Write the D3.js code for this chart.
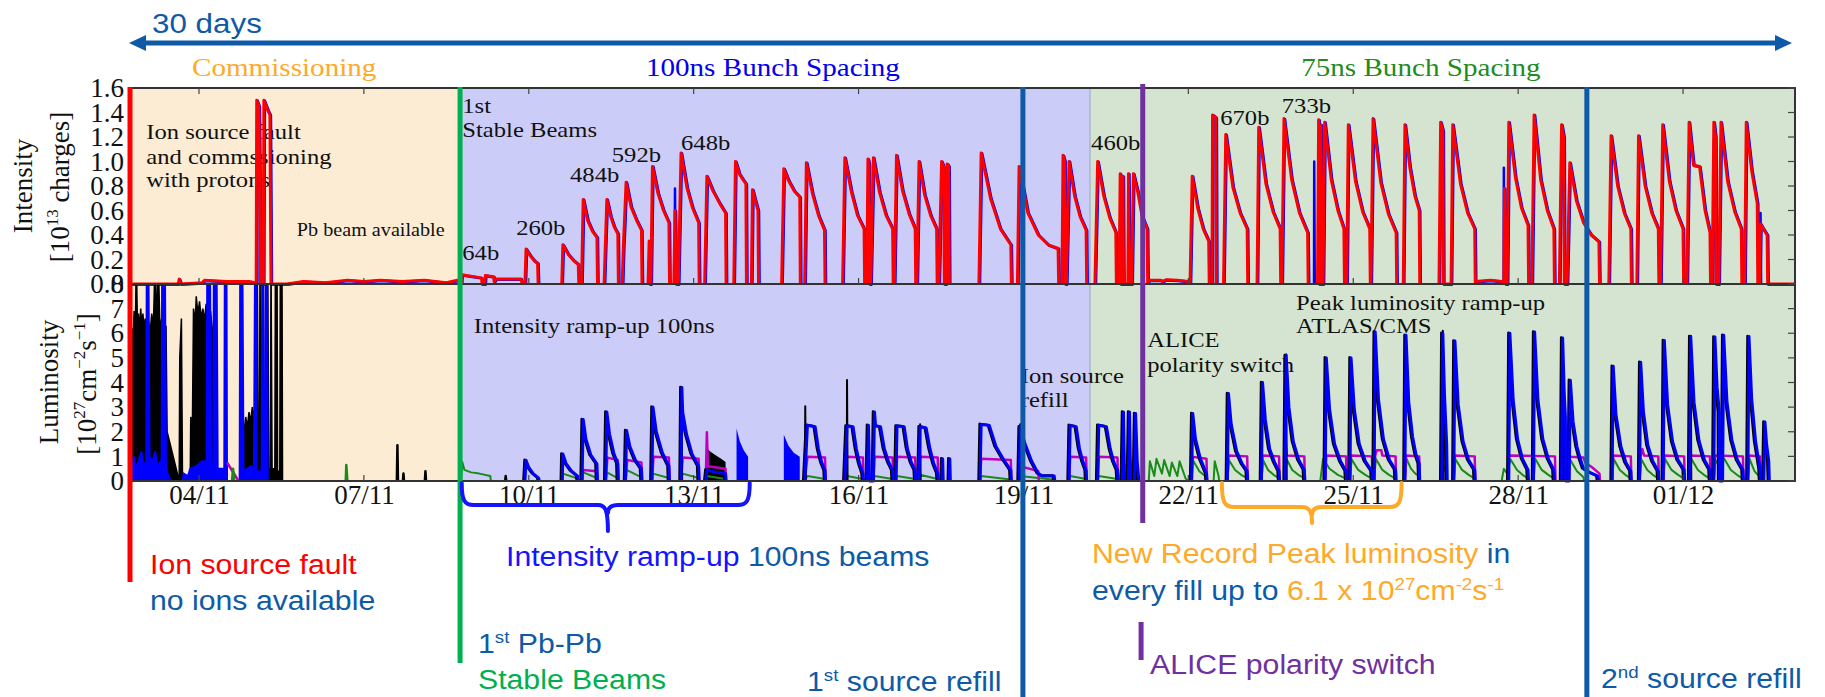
<!DOCTYPE html>
<html>
<head>
<meta charset="utf-8">
<script src="https://cdn.jsdelivr.net/npm/d3@7"></script>
<style>body{margin:0;background:#fff}</style>
</head>
<body>
<div id="chart"></div>
<script>
var W = 1825, H = 697;
var serif = "'Liberation Serif','Times New Roman',serif",
    sans = "'Liberation Sans',Arial,sans-serif";
var sx = 1.12; // the source figure is stretched a little sideways
var navy = "#0e5aa7";

// time = days counted from 1 Nov (31 = 1 Dec)
var dayTicks = [4, 7, 10, 13, 16, 19, 22, 25, 28, 31];
var dayLabels = ["04/11","07/11","10/11","13/11","16/11","19/11","22/11","25/11","28/11","01/12"];
var intTicks = [0, 0.2, 0.4, 0.6, 0.8, 1.0, 1.2, 1.4, 1.6];
var lumTicks = [0, 1, 2, 3, 4, 5, 6, 7, 8];

var phaseNames = ["Commissioning", "100ns Bunch Spacing", "75ns Bunch Spacing"];
var phaseFrom = [2.763, 8.75, 20.21];
var phaseTo = [8.75, 20.21, 33.037];
var phaseMid = [5.55, 14.44, 26.23];
var phaseFill = ["#fdecd4", "#ccccf8", "#d5e4d0"];
var phaseInk = ["#ffa928", "#0000ee", "#1e8c1e"];

// beam intensity (red beam, blue beam follows it closely)
var intRed = [
  [[2.77,0],[3.62,0],[3.64,0.04],[3.67,0],[4.05,0.01],[4.1,0.03],[4.5,0.02],[4.9,0.02],[5.04,0.01],[5.05,1.5],[5.09,1.45],[5.12,0],[5.17,0],[5.18,1.5],[5.25,1.42],[5.29,1.38],[5.31,0],[5.6,0],[5.9,0.02],[6.3,0.01],[6.7,0.03],[7.0,0.02],[7.3,0.03],[7.7,0.02],[8.1,0.03],[8.5,0.01],[8.7,0.03],[8.75,0]],
  [[8.77,0],[8.78,0.075],[9.14,0.05],[9.15,0],[9.2,0],[9.21,0.07],[9.36,0.06],[9.37,0.02],[9.4,0.04],[9.86,0.04],[9.88,0]],
  [[9.93,0],[9.95,0.285],[10.03,0.23],[10.10,0.19],[10.16,0.17],[10.17,0]],
  [[10.60,0],[10.62,0.32],[10.72,0.24],[10.82,0.19],[10.90,0.16],[10.91,0]],
  [[10.96,0],[10.99,0.69],[11.07,0.52],[11.16,0.43],[11.24,0.38],[11.25,0]],
  [[11.37,0],[11.42,0.69],[11.49,0.55],[11.56,0.46],[11.62,0.41],[11.63,0]],
  [[11.70,0],[11.72,0.3],[11.74,0.5],[11.77,0.83],[11.86,0.63],[11.96,0.52],[12.05,0.44],[12.06,0]],
  [[12.17,0],[12.19,0.35],[12.20,0],[12.22,0],[12.25,0.96],[12.35,0.74],[12.45,0.6],[12.55,0.5],[12.56,0]],
  [[12.64,0],[12.66,0.6],[12.68,0],[12.72,0],[12.77,1.07],[12.88,0.78],[12.98,0.62],[13.09,0.5],[13.10,0]],
  [[13.20,0],[13.24,0.88],[13.35,0.76],[13.47,0.66],[13.58,0.58],[13.59,0]],
  [[13.73,0],[13.76,1.0],[13.83,0.9],[13.90,0.85],[13.95,0.82],[13.96,0]],
  [[14.05,0],[14.07,0.77],[14.11,0.7],[14.17,0.6],[14.18,0]],
  [[14.60,0],[14.64,0.94],[14.73,0.84],[14.83,0.76],[14.93,0.71],[14.94,0]],
  [[15.02,0],[15.05,0.99],[15.16,0.74],[15.27,0.56],[15.38,0.44],[15.39,0]],
  [[15.71,0],[15.75,1.03],[15.87,0.75],[15.98,0.56],[16.10,0.45],[16.11,0]],
  [[16.15,0],[16.17,1.02],[16.19,0.98],[16.20,0],[16.22,0],[16.27,1.03],[16.38,0.75],[16.50,0.56],[16.62,0.45],[16.63,0]],
  [[16.65,0],[16.69,1.05],[16.80,0.76],[16.92,0.57],[17.03,0.45],[17.04,0]],
  [[17.06,0],[17.10,1.0],[17.20,0.73],[17.31,0.56],[17.42,0.45],[17.43,0]],
  [[17.46,0],[17.51,1.0],[17.55,0.95],[17.56,0],[17.59,0],[17.61,0.98],[17.64,0.96],[17.65,0]],
  [[18.19,0],[18.23,1.07],[18.40,0.7],[18.58,0.45],[18.77,0.32],[18.78,0]],
  [[18.89,0],[18.92,0.96],[19.08,0.58],[19.27,0.4],[19.45,0.32],[19.63,0.29],[19.64,0]],
  [[19.70,0],[19.72,1.05],[19.75,1.0],[19.76,0],[19.78,0],[19.83,1.0],[19.93,0.72],[20.03,0.55],[20.14,0.44],[20.15,0]],
  [[20.30,0],[20.35,1.0],[20.46,0.72],[20.57,0.54],[20.68,0.42],[20.69,0]],
  [[20.74,0],[20.76,0.9],[20.77,0],[20.80,0],[20.81,0.88],[20.82,0],[20.90,0],[20.91,0.9],[20.93,0],[20.97,0],[21.0,0.9],[21.08,0.75],[21.16,0.55],[21.25,0.45],[21.26,0]],
  [[21.26,0],[21.28,0.03],[21.5,0.03],[21.52,0.02],[21.6,0.035],[21.8,0.03],[22.0,0.02],[22.01,0]],
  [[22.03,0],[22.07,0.88],[22.17,0.62],[22.27,0.45],[22.37,0.35],[22.38,0]],
  [[22.43,0],[22.44,1.38],[22.50,1.36],[22.51,0]],
  [[22.64,0],[22.68,1.22],[22.81,0.79],[22.94,0.58],[23.07,0.45],[23.08,0]],
  [[23.25,0],[23.28,1.28],[23.41,0.82],[23.54,0.59],[23.67,0.45],[23.68,0]],
  [[23.70,0],[23.74,1.35],[23.88,0.85],[24.02,0.58],[24.17,0.42],[24.18,0]],
  [[24.35,0],[24.37,1.34],[24.38,0],[24.40,0],[24.41,1.3],[24.42,0],[24.45,0],[24.48,1.32],[24.60,0.85],[24.72,0.6],[24.83,0.45],[24.84,0]],
  [[24.88,0],[24.91,1.30],[25.04,0.84],[25.17,0.59],[25.30,0.45],[25.31,0]],
  [[25.32,0],[25.36,1.35],[25.50,0.83],[25.64,0.57],[25.78,0.42],[25.79,0]],
  [[25.91,0],[25.94,1.30],[26.03,0.95],[26.12,0.72],[26.20,0.6],[26.21,0]],
  [[26.56,0],[26.59,1.32],[26.63,1.25],[26.64,0],[26.78,0],[26.81,1.30],[26.95,0.82],[27.08,0.58],[27.21,0.45],[27.22,0]],
  [[27.22,0.02],[27.5,0.03],[27.7,0.02],[27.73,0]],
  [[27.74,0],[27.75,0.78],[27.77,0],[27.80,0],[27.83,1.32],[27.95,0.87],[28.06,0.62],[28.18,0.48],[28.19,0]],
  [[28.25,0],[28.29,1.38],[28.41,0.85],[28.53,0.6],[28.65,0.45],[28.66,0]],
  [[28.75,0],[28.79,1.30],[28.83,1.2],[28.84,0],[28.89,0],[28.94,0.99],[29.06,0.68],[29.19,0.5],[29.33,0.4],[29.47,0.345],[29.48,0]],
  [[29.65,0],[29.69,1.21],[29.81,0.8],[29.93,0.58],[30.05,0.45],[30.06,0]],
  [[30.16,0],[30.19,1.21],[30.31,0.8],[30.43,0.58],[30.55,0.45],[30.56,0]],
  [[30.59,0],[30.63,1.30],[30.75,0.84],[30.87,0.6],[31.0,0.45],[31.01,0]],
  [[31.07,0],[31.11,1.32],[31.19,0.97],[31.30,0.96],[31.40,0.6],[31.49,0.42],[31.50,0]],
  [[31.53,0],[31.56,1.32],[31.59,1.2],[31.60,0],[31.65,0],[31.69,1.32],[31.81,0.84],[31.94,0.59],[32.06,0.45],[32.07,0]],
  [[32.12,0],[32.15,1.32],[32.25,0.92],[32.35,0.66],[32.36,0]],
  [[32.39,0],[32.41,0.49],[32.46,0.45],[32.53,0.4],[32.54,0],[33.03,0]]
];
var intBlueSpikes = [[5.05,0.54],[12.66,0.78],[24.29,1.0],[27.74,0.95],[32.41,0.58]];

// luminosity: commissioning period (values above 8 leave the panel)
var lumBlackComm = [[2.77,0],[2.78,6.2],[2.80,5.8],[2.82,6.9],[2.84,6.0],[2.86,9],[2.88,6.3],[2.90,6.8],[2.92,6.0],[2.94,7.0],[2.96,6.2],[2.98,6.8],[3.00,6.1],[3.02,6.6],[3.05,6.0],[3.08,6.5],[3.11,6.0],[3.14,6.8],[3.17,6.2],[3.20,9],[3.23,6.4],[3.26,9],[3.29,6.1],[3.32,6.6],[3.36,6.0],[3.40,6.3],[3.42,2.0],[3.64,0],[3.65,5.0],[3.68,6.6],[3.70,0],[3.84,0],[3.85,2.6],[3.88,2.2],[3.90,7.0],[3.93,6.4],[3.95,7.5],[3.98,6.8],[4.01,7.3],[4.04,6.6],[4.07,7.0],[4.10,6.5],[4.13,7.2],[4.17,6.4],[4.21,6.9],[4.25,6.0],[4.29,6.5],[4.31,2.0],[4.33,0],[4.78,0],[4.79,2.3],[4.82,2.0],[4.85,2.6],[4.88,2.2],[4.91,2.8],[4.94,2.4],[4.97,3.0],[5.0,2.6],[5.03,3.2],[5.05,2.8],[5.06,9],[5.08,0.6],[5.10,0.6],[5.11,9],[5.13,0.6],[5.16,0.6],[5.17,9],[5.19,0.5],[5.24,0.5],[5.25,9],[5.27,0.5],[5.30,0.5],[5.31,9],[5.33,0.5],[5.38,0.5],[5.39,9],[5.42,9],[5.43,0.4],[5.47,0.4],[5.48,9],[5.51,9],[5.52,0],[5.6,0]];
var lumBlueComm = [[2.77,0],[2.78,0.6],[2.82,1.0],[2.86,0.5],[2.90,0.8],[2.95,1.2],[3.00,0.6],[3.04,0.8],[3.05,9],[3.08,9],[3.10,1.0],[3.15,0.7],[3.20,1.2],[3.25,0.6],[3.30,0.8],[3.32,0.8],[3.33,9],[3.38,9],[3.40,0.6],[3.44,0.2],[3.50,0],[3.70,0],[3.72,0.3],[3.80,0.2],[3.84,0.5],[3.95,0.6],[4.05,0.8],[4.14,0.8],[4.15,9],[4.20,9],[4.22,0.6],[4.26,0.6],[4.27,9],[4.32,9],[4.34,0.5],[4.46,0.5],[4.47,9],[4.50,9],[4.51,0],[4.74,0],[4.75,9],[4.79,9],[4.81,0.4],[4.95,0.6],[5.00,0.5],[5.02,9],[5.04,9],[5.05,0.4],[5.14,0.4],[5.15,9],[5.17,9],[5.18,0.3],[5.21,0.3],[5.22,9],[5.24,9],[5.25,0],[5.60,0]];
var lumSmall = [
  {c:"#bf00bf", p:[[4.51,0.75],[4.72,0]]},
  {c:"#1a8a1a", p:[[4.60,0],[4.62,0.5],[4.64,0]]},
  {c:"#1a8a1a", p:[[6.67,0],[6.68,0.65],[6.70,0]]},
  {c:"#000", p:[[7.60,0],[7.61,1.45],[7.62,0]]},
  {c:"#000", p:[[7.71,0],[7.72,0.3],[7.73,0]]},
  {c:"#000", p:[[8.11,0],[8.12,0.4],[8.13,0]]},
  {c:"#000", p:[[9.57,0],[9.58,0.2],[9.59,0]]}
];

// luminosity fills, ATLAS/CMS (blue on top of black)
var lumBlue = [
  [[9.93,0],[9.95,0.84],[10.0,0.55],[10.08,0.3],[10.18,0.12],[10.19,0]],
  [[10.61,0],[10.62,1.1],[10.68,0.7],[10.78,0.4],[10.89,0.2],[10.9,0]],
  [[10.97,0],[10.99,2.5],[11.04,1.7],[11.13,1.05],[11.24,0.7],[11.25,0]],
  [[11.40,0],[11.42,2.8],[11.47,1.9],[11.55,1.1],[11.62,0.7],[11.63,0]],
  [[11.76,0],[11.78,2.05],[11.84,1.4],[11.94,0.85],[12.05,0.5],[12.06,0]],
  [[12.24,0],[12.26,3.0],[12.32,2.0],[12.43,1.15],[12.55,0.6],[12.56,0]],
  [[12.77,0],[12.785,3.8],[12.80,2.8],[12.87,1.9],[12.97,1.1],[13.09,0.6],[13.10,0]],
  [[13.22,0],[13.24,0.45],[13.4,0.35],[13.58,0.3],[13.59,0]],
  [[15.02,0],[15.07,2.26],[15.21,2.2],[15.27,1.3],[15.33,0.75],[15.39,0.43],[15.40,0]],
  [[15.75,0],[15.79,2.23],[15.90,2.2],[15.96,1.3],[16.02,0.7],[16.08,0.3],[16.09,0]],
  [[16.16,0],[16.18,2.26],[16.20,0],[16.27,0],[16.29,2.8],[16.31,2.23],[16.40,2.2],[16.47,1.3],[16.55,0.75],[16.62,0.43],[16.63,0]],
  [[16.68,0],[16.70,2.23],[16.83,2.2],[16.89,1.3],[16.96,0.75],[17.03,0.43],[17.04,0]],
  [[17.10,0],[17.12,2.2],[17.23,2.15],[17.30,1.3],[17.37,0.7],[17.44,0.3],[17.45,0]],
  [[17.52,0],[17.53,0.9],[17.54,0]],
  [[17.65,0],[17.66,0.9],[17.67,0]],
  [[18.21,0],[18.23,2.3],[18.38,2.25],[18.50,1.4],[18.63,0.9],[18.77,0.43],[18.78,0]],
  [[18.92,0],[18.94,2.2],[19.03,1.5],[19.15,0.8],[19.27,0.3],[19.35,0.2],[19.56,0.2],[19.57,0]],
  [[19.83,0],[19.85,2.26],[19.96,2.2],[20.02,1.3],[20.08,0.8],[20.14,0.43],[20.15,0]],
  [[20.35,0],[20.37,2.26],[20.51,2.2],[20.58,1.3],[20.64,0.8],[20.71,0.43],[20.72,0]],
  [[20.80,0],[20.82,2.8],[20.84,0]],
  [[20.91,0],[20.93,2.8],[20.95,0]],
  [[21.02,0],[21.04,2.74],[21.07,0.8],[21.10,0]],
  [[22.06,0],[22.08,2.74],[22.13,1.7],[22.22,0.9],[22.33,0.3],[22.34,0]],
  [[22.71,0],[22.73,3.55],[22.78,2.3],[22.88,1.2],[22.98,0.7],[23.07,0.4],[23.08,0]],
  [[23.33,0],[23.35,4.0],[23.40,2.5],[23.48,1.3],[23.57,0.75],[23.65,0.4],[23.66,0]],
  [[23.76,0],[23.78,5.1],[23.83,3.0],[23.91,1.6],[24.01,0.85],[24.11,0.45],[24.12,0]],
  [[24.49,0],[24.51,5.0],[24.57,2.9],[24.66,1.5],[24.77,0.8],[24.87,0.4],[24.88,0]],
  [[24.94,0],[24.96,5.0],[25.02,2.9],[25.11,1.5],[25.22,0.8],[25.34,0.4],[25.35,0]],
  [[25.38,0],[25.40,6.05],[25.46,3.3],[25.55,1.7],[25.66,0.85],[25.77,0.45],[25.78,0]],
  [[25.94,0],[25.96,5.92],[26.01,3.2],[26.08,1.8],[26.14,1.1],[26.20,0.7],[26.21,0]],
  [[26.61,0],[26.63,6.0],[26.66,3.5],[26.70,1.5],[26.71,0]],
  [[26.83,0],[26.85,5.69],[26.91,3.1],[27.0,1.6],[27.1,0.85],[27.21,0.45],[27.22,0]],
  [[27.83,0],[27.85,6.0],[27.91,3.3],[27.99,1.7],[28.08,0.9],[28.18,0.45],[28.19,0]],
  [[28.28,0],[28.30,6.05],[28.36,3.3],[28.45,1.7],[28.55,0.9],[28.65,0.45],[28.66,0]],
  [[28.79,0],[28.81,5.81],[28.84,3.5],[28.86,2.6],[28.865,0],[28.93,0],[28.95,4.09],[29.0,2.4],[29.07,1.4],[29.13,0.9],[29.19,0.5],[29.30,0.35],[29.45,0.2],[29.46,0]],
  [[29.71,0],[29.73,4.66],[29.78,2.7],[29.87,1.4],[29.96,0.75],[30.05,0.4],[30.06,0]],
  [[30.21,0],[30.23,4.82],[30.28,2.8],[30.36,1.45],[30.45,0.8],[30.55,0.4],[30.56,0]],
  [[30.64,0],[30.66,5.71],[30.72,3.1],[30.81,1.6],[30.91,0.85],[31.02,0.45],[31.03,0]],
  [[31.12,0],[31.14,5.87],[31.20,3.2],[31.29,1.65],[31.39,0.85],[31.49,0.45],[31.50,0]],
  [[31.56,0],[31.58,5.85],[31.62,3.8],[31.66,2.8],[31.665,0],[31.72,0],[31.74,5.92],[31.80,3.2],[31.89,1.65],[31.99,0.85],[32.09,0.45],[32.10,0]],
  [[32.18,0],[32.20,5.87],[32.25,3.3],[32.32,1.6],[32.40,0.5],[32.41,0]],
  [[32.47,0],[32.49,2.4],[32.52,1.5],[32.56,0.8],[32.57,0]]
];
// dense, unresolved fills drawn as areas
var lumBlueDense = [
  [[13.78,2.13],[13.84,1.6],[13.91,1.25],[13.99,0.98]],
  [[14.64,1.88],[14.72,1.45],[14.82,1.15],[14.93,0.98]]
];
var lumBlackDense = [[13.24,1.33],[13.30,1.2],[13.40,1.05],[13.50,0.9],[13.58,0.77]];
var lumBlackSpikes = [[12.78,3.8],[15.03,3.04],[15.79,4.1],[17.12,2.3],[18.94,2.3],[23.78,5.15],[26.63,6.1],[31.14,5.9]];

// ALICE (leveled) luminosity
var lumMagenta = [
  [[10.97,0],[10.99,0.45],[11.24,0.4],[11.25,0]],
  [[11.40,0],[11.43,0.95],[11.62,0.85],[11.63,0]],
  [[11.76,0],[11.79,0.85],[12.05,0.75],[12.06,0]],
  [[12.24,0],[12.27,0.98],[12.55,0.95],[12.56,0]],
  [[12.77,0],[12.80,0.95],[13.09,0.9],[13.10,0]],
  [[13.22,0],[13.24,1.98],[13.26,0.6],[13.58,0.5],[13.59,0]],
  [[15.02,0],[15.07,0.98],[15.39,0.95],[15.40,0]],
  [[15.75,0],[15.79,0.98],[16.08,0.95],[16.09,0]],
  [[16.27,0],[16.29,0.98],[16.62,0.95],[16.63,0]],
  [[16.68,0],[16.70,0.98],[17.03,0.95],[17.04,0]],
  [[17.10,0],[17.12,0.98],[17.44,0.95],[17.45,0]],
  [[18.21,0],[18.23,0.9],[18.77,0.85],[18.78,0]],
  [[18.92,0],[18.94,0.6],[19.27,0.4],[19.28,0]],
  [[19.83,0],[19.85,0.98],[20.14,0.95],[20.15,0]],
  [[20.35,0],[20.37,0.98],[20.71,0.95],[20.72,0]],
  [[22.06,0],[22.08,0.98],[22.33,0.9],[22.34,0]],
  [[22.71,0],[22.73,1.04],[23.07,1.0],[23.08,0]],
  [[23.33,0],[23.35,1.04],[23.65,1.0],[23.66,0]],
  [[23.76,0],[23.77,1.65],[23.79,1.04],[24.11,1.0],[24.12,0]],
  [[24.49,0],[24.51,1.04],[24.87,1.0],[24.88,0]],
  [[24.94,0],[24.96,1.04],[25.34,1.0],[25.35,0]],
  [[25.38,0],[25.40,1.04],[25.43,1.25],[25.51,1.25],[25.53,1.04],[25.77,1.0],[25.78,0]],
  [[25.94,0],[25.96,1.04],[26.20,1.0],[26.21,0]],
  [[26.83,0],[26.85,1.04],[27.21,1.0],[27.22,0]],
  [[27.80,0],[27.83,1.04],[28.67,1.0],[28.68,0]],
  [[28.79,0],[28.81,1.0],[29.19,0.95],[29.22,0.75],[29.35,0.55],[29.48,0.3],[29.49,0]],
  [[29.71,0],[29.73,1.04],[30.05,1.0],[30.06,0]],
  [[30.21,0],[30.23,1.04],[30.26,1.3],[30.29,1.04],[30.55,1.0],[30.56,0]],
  [[30.64,0],[30.66,1.04],[31.02,1.0],[31.03,0]],
  [[31.12,0],[31.14,1.04],[31.49,1.0],[31.50,0]],
  [[31.56,0],[31.58,1.04],[32.09,1.0],[32.10,0]],
  [[32.18,0],[32.20,1.04],[32.40,1.0],[32.41,0]]
];

// LHCb luminosity
var lumGreen = [
  [[8.77,0],[8.79,0.77],[8.83,0.45],[8.95,0.35],[9.1,0.3],[9.3,0.2],[9.31,0]],
  [[10.61,0],[10.62,0.3],[10.89,0.1],[10.9,0]],
  [[10.97,0],[10.99,0.35],[11.24,0.12],[11.25,0]],
  [[11.40,0],[11.42,0.35],[11.62,0.12],[11.63,0]],
  [[11.76,0],[11.78,0.45],[12.05,0.15],[12.06,0]],
  [[12.24,0],[12.26,0.3],[12.55,0.12],[12.56,0]],
  [[12.77,0],[12.80,0.3],[13.09,0.12],[13.10,0]],
  [[13.22,0],[13.24,0.2],[13.58,0.08],[13.59,0]],
  [[15.02,0],[15.07,0.2],[15.39,0.08],[15.40,0]],
  [[15.75,0],[15.79,0.2],[16.08,0.08],[16.09,0]],
  [[16.27,0],[16.29,0.2],[16.62,0.08],[16.63,0]],
  [[16.68,0],[16.70,0.2],[17.03,0.08],[17.04,0]],
  [[17.10,0],[17.12,0.25],[17.44,0.08],[17.45,0]],
  [[18.21,0],[18.23,0.2],[18.77,0.06],[18.78,0]],
  [[18.92,0],[18.94,0.2],[19.56,0.05],[19.57,0]],
  [[19.83,0],[19.85,0.2],[20.14,0.08],[20.15,0]],
  [[20.35,0],[20.37,0.2],[20.71,0.08],[20.72,0]],
  [[20.75,0],[20.78,0.6],[20.85,0.1],[20.88,0.7],[20.95,0.2],[20.98,0.8],[21.05,0.15],[21.10,0]],
  [[21.28,0],[21.30,0.8],[21.38,0.2],[21.42,0.9],[21.52,0.3],[21.56,0.85],[21.66,0.2],[21.70,0.75],[21.80,0.2],[21.84,0.8],[21.95,0.1],[22.0,0]],
  [[22.06,0],[22.08,0.85],[22.2,0.4],[22.33,0.15],[22.34,0]],
  [[22.46,0],[22.48,0.8],[22.55,0.2],[22.56,0]],
  [[22.71,0],[22.74,0.84],[22.85,0.45],[22.96,0.25],[23.07,0.12],[23.08,0]],
  [[23.33,0],[23.36,0.84],[23.45,0.45],[23.55,0.25],[23.65,0.12],[23.66,0]],
  [[23.76,0],[23.79,0.88],[23.89,0.45],[24.0,0.25],[24.11,0.12],[24.12,0]],
  [[24.40,0],[24.45,0.9],[24.57,0.5],[24.72,0.25],[24.87,0.1],[24.88,0]],
  [[24.94,0],[24.97,0.88],[25.09,0.45],[25.22,0.25],[25.34,0.1],[25.35,0]],
  [[25.38,0],[25.41,0.9],[25.53,0.45],[25.65,0.25],[25.77,0.1],[25.78,0]],
  [[25.94,0],[25.97,0.9],[26.05,0.5],[26.13,0.3],[26.20,0.2],[26.21,0]],
  [[26.61,0],[26.63,0.7],[26.70,0.3],[26.71,0]],
  [[26.83,0],[26.86,0.88],[26.98,0.45],[27.1,0.25],[27.21,0.1],[27.22,0]],
  [[27.70,0],[27.74,0.5],[27.80,0.3],[27.86,0.88],[27.98,0.45],[28.08,0.25],[28.18,0.1],[28.19,0]],
  [[28.28,0],[28.31,0.9],[28.43,0.45],[28.55,0.25],[28.65,0.1],[28.66,0]],
  [[28.79,0],[28.82,0.8],[28.86,0.6],[28.95,0.85],[29.07,0.4],[29.19,0.15],[29.20,0]],
  [[29.71,0],[29.74,0.88],[29.85,0.45],[29.95,0.25],[30.05,0.1],[30.06,0]],
  [[30.21,0],[30.24,0.88],[30.35,0.45],[30.45,0.25],[30.55,0.1],[30.56,0]],
  [[30.64,0],[30.67,0.9],[30.79,0.45],[30.91,0.25],[31.02,0.1],[31.03,0]],
  [[31.12,0],[31.15,0.9],[31.27,0.45],[31.38,0.25],[31.49,0.1],[31.50,0]],
  [[31.56,0],[31.59,0.85],[31.66,0.6],[31.75,0.9],[31.87,0.45],[31.98,0.25],[32.09,0.1],[32.10,0]],
  [[32.18,0],[32.21,0.9],[32.30,0.4],[32.40,0.15],[32.41,0]]
];

var intNotes = [
  ["Ion source fault", 3.04, 1.18], ["and commssioning", 3.04, 0.98], ["with protons", 3.04, 0.79],
  ["1st", 8.79, 1.40], ["Stable Beams", 8.79, 1.20], ["64b", 8.79, 0.20],
  ["260b", 9.77, 0.40], ["484b", 10.75, 0.83], ["592b", 11.51, 1.0], ["648b", 12.77, 1.09],
  ["460b", 20.23, 1.09], ["670b", 22.58, 1.30], ["733b", 23.70, 1.40]
];
var lumNotes = [
  ["Intensity ramp-up 100ns", 9.0, 6.01], ["Ion source", 18.95, 3.98], ["refill", 18.95, 3.0],
  ["ALICE", 21.25, 5.44], ["polarity switch", 21.25, 4.43],
  ["Peak luminosity ramp-up", 23.96, 6.94], ["ATLAS/CMS", 23.96, 6.01]
];

// events marked across the figure
var eventDay = [2.745, 8.75, 18.99, 21.17, 29.25];
var eventColor = ["#ff0000", "#00b050", navy, "#7030a0", navy];
var eventTop = [87, 87, 87, 84, 87];
var eventBottom = [582, 663, 697, 523, 697];

var x = d3.scaleLinear().domain([2.763, 33.037]).range([131, 1795]);
var yInt = d3.scaleLinear().domain([0, 1.6]).range([284, 88]);
var yLum = d3.scaleLinear().domain([0, 8]).range([481, 284]);

var svg = d3.select("#chart").append("svg")
  .attr("width", W).attr("height", H)
  .style("background", "#fff");

function say(g, px, py, parts, size, font, anchor) {
  var t = g.append("text")
    .attr("transform", "translate(" + px + "," + py + ") scale(" + sx + ",1)")
    .attr("font-family", font).attr("font-size", size)
    .attr("text-anchor", anchor || "start");
  var up = false;
  parts.forEach(function(p) {
    var s = t.append("tspan").text(p[0]).attr("fill", p[1]);
    if (p[2]) { s.attr("font-size", size * 0.62).attr("dy", up ? 0 : -size * 0.38); up = true; }
    else if (up) { s.attr("dy", size * 0.38); up = false; }
  });
  return t;
}

var defs = svg.append("defs");
defs.append("clipPath").attr("id", "clipInt").append("rect")
  .attr("x", 131).attr("y", 86).attr("width", 1664).attr("height", 200);
defs.append("clipPath").attr("id", "clipLum").append("rect")
  .attr("x", 131).attr("y", 284).attr("width", 1664).attr("height", 199);

// phase backgrounds
svg.selectAll("rect.phase").data(phaseNames).enter().append("rect")
  .attr("class", "phase")
  .attr("x", function(d, i) { return x(phaseFrom[i]); })
  .attr("width", function(d, i) { return x(phaseTo[i]) - x(phaseFrom[i]); })
  .attr("y", yInt(1.6)).attr("height", yLum(0) - yInt(1.6))
  .attr("fill", function(d, i) { return phaseFill[i]; });
svg.append("line").attr("x1", x(phaseFrom[2])).attr("x2", x(phaseFrom[2]))
  .attr("y1", yInt(1.6)).attr("y2", yLum(0)).attr("stroke", "#a9b6cc").attr("stroke-width", 1.5);

phaseNames.forEach(function(n, i) {
  say(svg, x(phaseMid[i]), 76, [[n, phaseInk[i]]], 26, serif, "middle");
});

// notes inside the panels
intNotes.forEach(function(n) { say(svg, x(n[1]), yInt(n[2]), [[n[0], "#111"]], 22, serif); });
say(svg, x(5.78), yInt(0.39), [["Pb beam available", "#111"]], 18, serif);
lumNotes.forEach(function(n) { say(svg, x(n[1]), yLum(n[2]), [[n[0], "#111"]], 22, serif); });

function drawFills(g, fills, ys, color, width, dx, dy) {
  var line = d3.line().x(function(d) { return x(d[0]); }).y(function(d) { return ys(d[1]); });
  g.append("g").attr("transform", "translate(" + (dx || 0) + "," + (dy || 0) + ")")
    .selectAll("path").data(fills).enter().append("path")
    .attr("d", line).attr("fill", "none").attr("stroke", color)
    .attr("stroke-width", width).attr("stroke-linejoin", "round");
}
function spikes(list) {
  return list.map(function(s) { return [[s[0] - 0.004, 0], [s[0], s[1]], [s[0] + 0.01, 0]]; });
}
var area = d3.area().x(function(d) { return x(d[0]); }).y0(yLum(0)).y1(function(d) { return yLum(d[1]); });

// intensity panel
var gi = svg.append("g").attr("clip-path", "url(#clipInt)");
drawFills(gi, intRed, yInt, "#0000ff", 3, 0.8, 0.5);
drawFills(gi, spikes(intBlueSpikes), yInt, "#0000ff", 2.5);
drawFills(gi, intRed, yInt, "#ff0000", 3);

// luminosity panel
var gl = svg.append("g").attr("clip-path", "url(#clipLum)");
gl.append("path").datum(lumBlackComm).attr("d", area).attr("fill", "#000")
  .attr("stroke", "#000").attr("stroke-width", 1.5);
gl.append("path").datum(lumBlueComm).attr("d", area).attr("fill", "#0000ff")
  .attr("stroke", "#0000ff").attr("stroke-width", 2);
lumSmall.forEach(function(s) { drawFills(gl, [s.p], yLum, s.c, 2.5); });
gl.append("path").datum(lumBlackDense).attr("d", area).attr("fill", "#000");
gl.selectAll("path.dense").data(lumBlueDense).enter().append("path")
  .attr("class", "dense").attr("d", area).attr("fill", "#0000ff");
drawFills(gl, lumGreen, yLum, "#1a8a1a", 2);
drawFills(gl, lumMagenta, yLum, "#bf00bf", 2.5);
drawFills(gl, lumBlue, yLum, "#000", 2.5, -1.5, -0.5);
drawFills(gl, spikes(lumBlackSpikes), yLum, "#000", 2);
drawFills(gl, lumBlue, yLum, "#0000ff", 3);

// frame and inward ticks
var frame = svg.append("g").attr("stroke", "#333").attr("stroke-width", 2).attr("fill", "none");
frame.append("path").attr("d", "M" + x.range()[0] + "," + yInt(1.6) + "H" + x.range()[1] + "V" + yLum(0) + "H" + x.range()[0]);
frame.append("line").attr("x1", x.range()[0]).attr("x2", x.range()[1]).attr("y1", yInt(0)).attr("y2", yInt(0));
var tk = svg.append("g").attr("stroke", "#444").attr("stroke-width", 1.2);
[[yInt(1.6), 6], [yInt(0), -6], [yLum(0), -6]].forEach(function(r) {
  tk.selectAll(null).data(dayTicks).enter().append("line")
    .attr("x1", function(d) { return x(d); }).attr("x2", function(d) { return x(d); })
    .attr("y1", r[0]).attr("y2", r[0] + r[1]);
});
tk.selectAll(null).data(intTicks).enter().append("line")
  .attr("x1", x.range()[1]).attr("x2", x.range()[1] - 7)
  .attr("y1", function(d) { return yInt(d); }).attr("y2", function(d) { return yInt(d); });
tk.selectAll(null).data(lumTicks).enter().append("line")
  .attr("x1", x.range()[1]).attr("x2", x.range()[1] - 7)
  .attr("y1", function(d) { return yLum(d); }).attr("y2", function(d) { return yLum(d); });

// axes
var ax = svg.append("g").attr("transform", "translate(0," + yLum(0) + ")")
  .call(d3.axisBottom(x).tickValues(dayTicks).tickFormat(function(d, i) { return dayLabels[i]; }).tickSize(0).tickPadding(4));
var ayI = svg.append("g").attr("transform", "translate(" + x.range()[0] + ",0)")
  .call(d3.axisLeft(yInt).tickValues(intTicks).tickFormat(d3.format(".1f")).tickSize(0).tickPadding(7));
var ayL = svg.append("g").attr("transform", "translate(" + x.range()[0] + ",0)")
  .call(d3.axisLeft(yLum).tickValues(lumTicks).tickFormat(d3.format("d")).tickSize(0).tickPadding(7));
[ax, ayI, ayL].forEach(function(a) {
  a.select(".domain").remove();
  a.selectAll("text").attr("font-family", serif).attr("font-size", 27).attr("fill", "#111");
});

function vtitle(px, py, parts) {
  var t = svg.append("text").attr("transform", "translate(" + px + "," + py + ") rotate(-90)")
    .attr("font-family", serif).attr("font-size", 27).attr("text-anchor", "middle").attr("fill", "#111");
  var up = false;
  parts.forEach(function(p) {
    var s = t.append("tspan").text(p[0]);
    if (p[1]) { s.attr("font-size", 17).attr("dy", up ? 0 : -11); up = true; }
    else if (up) { s.attr("dy", 11); up = false; }
  });
}
vtitle(32, 186, [["Intensity"]]);
vtitle(69, 187, [["[10"], ["13", 1], [" charges]"]]);
vtitle(58, 382, [["Luminosity"]]);
vtitle(96, 384, [["[10"], ["27", 1], ["cm"], ["\u22122", 1], ["s"], ["\u22121", 1], ["]"]]);

// event lines
svg.selectAll("line.event").data(eventDay).enter().append("line")
  .attr("class", "event")
  .attr("x1", function(d) { return x(d); }).attr("x2", function(d) { return x(d); })
  .attr("y1", function(d, i) { return eventTop[i]; }).attr("y2", function(d, i) { return eventBottom[i]; })
  .attr("stroke", function(d, i) { return eventColor[i]; }).attr("stroke-width", 5);
svg.append("line").attr("x1", x(21.14)).attr("x2", x(21.14)).attr("y1", 622).attr("y2", 660)
  .attr("stroke", "#7030a0").attr("stroke-width", 5);

// 30 days arrow
svg.append("line").attr("x1", 140).attr("x2", 1780).attr("y1", 43).attr("y2", 43)
  .attr("stroke", navy).attr("stroke-width", 5);
svg.append("path").attr("d", "M129,43 L146,35 L146,51 Z").attr("fill", navy);
svg.append("path").attr("d", "M1792,43 L1775,35 L1775,51 Z").attr("fill", navy);
say(svg, 152, 33, [["30 days", navy]], 28, sans);

// braces under the time axis
function brace(a, b, tip, y0, y1, y2, color) {
  var l = x(a), r = x(b), m = x(tip);
  svg.append("path")
    .attr("d", "M" + l + "," + y0 + " C" + l + "," + (y1 - 4) + " " + (l + 3) + "," + y1 + " " + (l + 12) + "," + y1 +
      " H" + (m - 10) + " C" + (m - 3) + "," + y1 + " " + m + "," + (y1 + 4) + " " + m + "," + y2 +
      " M" + m + "," + (y1 + 8) + " C" + m + "," + (y1 + 3) + " " + (m + 3) + "," + y1 + " " + (m + 10) + "," + y1 +
      " H" + (r - 12) + " C" + (r - 3) + "," + y1 + " " + r + "," + (y1 - 4) + " " + r + "," + y0)
    .attr("fill", "none").attr("stroke", color).attr("stroke-width", 4).attr("stroke-linecap", "round");
}
brace(8.78, 14.02, 11.44, 483, 505, 531, "#1414ff");
brace(22.61, 25.88, 24.25, 483, 507, 523, "#ffa928");

// notes below the chart
var orange = "#ffa928";
say(svg, 150, 574, [["Ion source fault", "#ff0000"]], 27, sans);
say(svg, 150, 610, [["no ions available", navy]], 27, sans);
say(svg, 506, 566, [["Intensity ramp-up", "#1414ff"], [" 100ns beams", navy]], 27, sans);
say(svg, 478, 653, [["1", navy], ["st", navy, 1], [" Pb-Pb", navy]], 27, sans);
say(svg, 478, 689, [["Stable Beams", "#00b050"]], 27, sans);
say(svg, 807, 691, [["1", navy], ["st", navy, 1], [" source refill", navy]], 27, sans);
say(svg, 1092, 563, [["New Record Peak luminosity", orange], [" in", navy]], 27, sans);
say(svg, 1092, 600, [["every fill up to ", navy], ["6.1 x 10", orange], ["27", orange, 1], ["cm", orange], ["-2", orange, 1], ["s", orange], ["-1", orange, 1]], 27, sans);
say(svg, 1150, 674, [["ALICE polarity switch", "#7030a0"]], 27, sans);
say(svg, 1601, 688, [["2", navy], ["nd", navy, 1], [" source refill", navy]], 27, sans);
</script>
</body>
</html>
